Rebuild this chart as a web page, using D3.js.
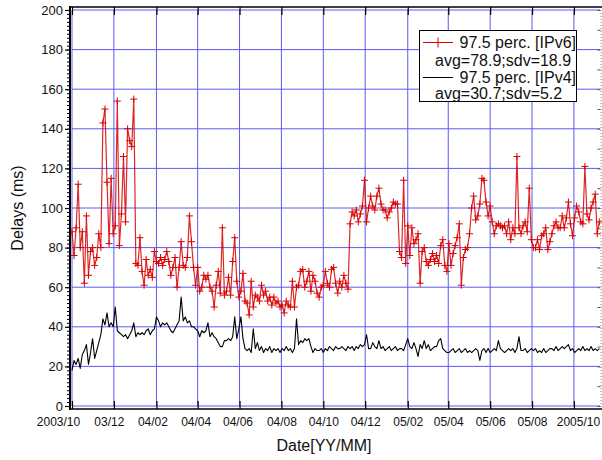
<!DOCTYPE html>
<html><head><meta charset="utf-8">
<script src="https://cdn.jsdelivr.net/npm/d3@7"></script>
<style>
body{margin:0;background:#fff}
svg{display:block;font-family:"Liberation Sans",Arial,Helvetica,sans-serif}
</style>
</head><body>
<svg id="chart" width="602" height="460"></svg>
<script>
// ---------------- data ----------------
const startDate = "2003-10-01";
const endDate = "2005-11-08";
const stepDays = 3; // one sample every 3 days

const ipv6Values = [
  88,76,90,112,80,88,62,96,66,78,
  80,71,75,87,80,143,150,113,82,115,
  87,91,154,81,97,126,93,140,134,131,
  155,72,71,85,68,61,74,66,69,65,
  78,73,72,75,71,74,78,73,66,70,
  75,60,70,83,71,70,75,96,83,70,
  61,70,58,60,66,64,66,60,58,50,
  61,68,57,90,56,58,65,56,73,85,
  63,55,58,67,53,52,46,63,50,56,
  55,53,61,56,58,53,55,51,55,52,
  53,50,51,47,53,51,50,63,50,60,
  61,68,69,60,63,68,58,66,63,57,
  55,60,61,68,62,60,69,70,62,57,
  63,60,66,62,59,92,98,96,99,93,
  97,101,114,93,100,106,101,99,106,110,
  102,99,99,95,98,100,103,102,102,78,
  75,114,72,91,76,90,82,84,87,62,
  78,80,73,71,74,77,73,76,72,81,
  84,71,68,82,71,77,81,85,92,61,
  75,79,80,87,100,106,94,96,102,115,
  114,103,96,101,93,87,91,92,91,90,
  91,87,93,84,90,87,126,90,87,91,
  93,88,110,84,80,80,84,79,86,87,
  90,79,83,87,91,93,90,90,96,90,
  95,103,92,86,95,101,98,93,92,121,
  97,94,100,103,107,87,93
];

const ipv4Values = [
  18,23,21,24,19,26,28,31,21,27,
  34,24,28,32,36,44,41,47,40,42,
  40,50,38,37,36,35,36,34,36,38,
  42,35,37,36,37,36,38,39,36,38,
  39,45,43,40,42,41,42,40,38,37,
  39,41,43,55,43,45,42,43,40,40,
  39,38,35,38,37,38,42,35,37,35,
  34,32,30,30,33,33,34,33,35,45,
  34,39,45,34,29,28,29,27,39,29,
  32,28,30,27,29,28,30,27,29,28,
  29,27,29,28,30,28,29,27,29,44,
  31,33,32,34,33,34,30,27,29,28,
  28,29,27,29,28,30,29,28,30,29,
  29,30,29,28,30,29,30,28,30,29,
  31,30,31,36,29,29,32,30,29,33,
  29,30,28,29,30,28,29,30,28,29,
  29,28,31,34,30,29,32,29,25,31,
  29,33,29,31,28,29,30,30,33,34,
  29,28,27,27,28,29,27,28,29,27,
  28,29,27,28,27,28,29,28,23,28,
  29,27,29,27,28,29,28,33,29,28,
  27,28,29,28,29,27,29,35,28,28,
  29,27,28,29,28,29,27,28,27,29,
  27,28,29,29,28,30,28,29,30,29,
  30,31,28,29,27,28,29,28,30,28,
  29,28,30,28,29,28,29
];

const xTickDates = ["2003-10-01","2003-12-01","2004-02-01","2004-04-01","2004-06-01","2004-08-01",
  "2004-10-01","2004-12-01","2005-02-01","2005-04-01","2005-06-01","2005-08-01","2005-10-01"];
const xTickLabels = ["2003/10","03/12","04/02","04/04","04/06","04/08","04/10","04/12",
  "05/02","05/04","05/06","05/08","2005/10"];
const yTickValues = [0,20,40,60,80,100,120,140,160,180,200];
const yTickLabels = ["0","20","40","60","80","100","120","140","160","180","200"];
const seriesNames = ["97.5 perc. [IPv6]","97.5 perc. [IPv4]"];
const seriesStats = ["avg=78.9;sdv=18.9","avg=30.7;sdv=5.2"];
const xTitle = "Date[YY/MM]";
const yTitle = "Delays (ms)";

// ---------------- chart ----------------
const svg = d3.select("#chart");
const parse = d3.utcParse("%Y-%m-%d");
const t0 = parse(startDate);
const x = d3.scaleUtc().domain([t0, parse(endDate)]).range([72, 600]);
const y = d3.scaleLinear().domain([0, 200]).range([406, 10]);

const ipv6 = ipv6Values.map((v, i) => ({date: d3.utcDay.offset(t0, i * stepDays), v}));
const ipv4 = ipv4Values.map((v, i) => ({date: d3.utcDay.offset(t0, i * stepDays), v}));
const tickDates = xTickDates.map(parse);

const gridColor = "#5a5af5";
const red = "#d90000";

// grid
const grid = svg.append("g");
grid.selectAll("line.v").data(tickDates).join("line")
  .attr("x1", d => x(d)).attr("x2", d => x(d))
  .attr("y1", y(0)).attr("y2", y(200))
  .attr("stroke", gridColor).attr("stroke-width", 1);
grid.selectAll("line.h").data(yTickValues).join("line")
  .attr("x1", 72).attr("x2", 600)
  .attr("y1", d => y(d)).attr("y2", d => y(d))
  .attr("stroke", gridColor).attr("stroke-width", 1);

// clip
svg.append("defs").append("clipPath").attr("id", "clip")
  .append("rect").attr("x", 71).attr("y", 7).attr("width", 531).attr("height", 402);
const plot = svg.append("g").attr("clip-path", "url(#clip)");

const line = d3.line().x(d => x(d.date)).y(d => y(d.v));

plot.append("path").datum(ipv4).attr("d", line)
  .attr("fill", "none").attr("stroke", "#000").attr("stroke-width", 1.1)
  .attr("stroke-linejoin", "round");

plot.append("path").datum(ipv6).attr("d", line)
  .attr("fill", "none").attr("stroke", red).attr("stroke-width", 1.2)
  .attr("stroke-opacity", 0.85).attr("stroke-linejoin", "round");

plot.append("g").selectAll("path").data(ipv6).join("path")
  .attr("d", d => {
    const px = x(d.date), py = y(d.v);
    return `M${px - 3.5},${py}h7M${px},${py - 3.5}v7`;
  })
  .attr("stroke", red).attr("stroke-width", 1).attr("fill", "none");

// right axis (dotted) with small ticks
const rightAx = svg.append("g").attr("transform", "translate(600.5,0)")
  .call(d3.axisLeft(y).tickValues(d3.range(0, 201, 10)).tickSize(3).tickFormat(""));
rightAx.select(".domain").attr("stroke", "#888").attr("stroke-dasharray", "1,2");
rightAx.selectAll(".tick line").attr("stroke", "#555");

// left axis: minor ticks
const minorAx = svg.append("g").attr("transform", "translate(70,0)")
  .call(d3.axisLeft(y).tickValues(d3.range(0, 201, 2)).tickSize(3).tickFormat(""));
minorAx.select(".domain").remove();
minorAx.selectAll(".tick line").attr("stroke", "#000").attr("stroke-width", 1);

// left axis: major ticks + labels
const leftAx = svg.append("g").attr("transform", "translate(70,0)")
  .call(d3.axisLeft(y).tickValues(yTickValues).tickSize(5).tickPadding(2)
    .tickFormat((d, i) => yTickLabels[i]));
leftAx.select(".domain").remove();
leftAx.selectAll(".tick line").attr("stroke", "#000").attr("stroke-width", 1.2);
leftAx.selectAll(".tick text").attr("font-size", 13).attr("fill", "#111")
  .attr("font-family", "'Liberation Sans',Arial,sans-serif");

// bottom axis
const labelShift = [-14, -5, -4, -2, -2, 0, 0, 0, 0, 0, 0, 0, 4];
const bottomAx = svg.append("g").attr("transform", "translate(0,409)")
  .call(d3.axisBottom(x).tickValues(tickDates).tickSizeInner(-8).tickSizeOuter(0).tickPadding(8)
    .tickFormat((d, i) => xTickLabels[i]));
bottomAx.select(".domain").remove();
bottomAx.selectAll(".tick line").attr("stroke", "#000").attr("stroke-width", 1.2);
bottomAx.selectAll(".tick text").attr("font-size", 12).attr("fill", "#111")
  .attr("font-family", "'Liberation Sans',Arial,sans-serif")
  .attr("dx", (d, i) => labelShift[i]);

// top axis ticks
const topAx = svg.append("g").attr("transform", "translate(0,7)")
  .call(d3.axisTop(x).tickValues(tickDates).tickSizeInner(-8).tickSizeOuter(0).tickFormat(""));
topAx.select(".domain").remove();
topAx.selectAll(".tick line").attr("stroke", "#000").attr("stroke-width", 1.2);

// frame lines
svg.append("line").attr("x1", 70).attr("x2", 70).attr("y1", 6).attr("y2", 410)
  .attr("stroke", "#000").attr("stroke-width", 2);
svg.append("line").attr("x1", 69).attr("x2", 602).attr("y1", 7).attr("y2", 7)
  .attr("stroke", "#000").attr("stroke-width", 1.5);
svg.append("line").attr("x1", 69).attr("x2", 602).attr("y1", 409).attr("y2", 409)
  .attr("stroke", "#000").attr("stroke-width", 1.5);

// titles
svg.append("text").attr("x", 324).attr("y", 451).attr("text-anchor", "middle")
  .attr("font-size", 16).attr("fill", "#111").text(xTitle);
svg.append("text").attr("transform", "translate(23,208) rotate(-90)")
  .attr("text-anchor", "middle").attr("font-size", 16).attr("fill", "#111").text(yTitle);

// legend
const lg = svg.append("g");
lg.append("rect").attr("x", 419.5).attr("y", 30.5).attr("width", 157).attr("height", 71)
  .attr("fill", "#fff").attr("stroke", "#000").attr("stroke-width", 1);
lg.append("line").attr("x1", 423).attr("x2", 453).attr("y1", 42.5).attr("y2", 42.5)
  .attr("stroke", red).attr("stroke-width", 1);
lg.append("path").attr("d", "M433,42.5h10M438,37.5v10").attr("stroke", red).attr("stroke-width", 1);
lg.append("line").attr("x1", 423).attr("x2", 453).attr("y1", 77.5).attr("y2", 77.5)
  .attr("stroke", "#000").attr("stroke-width", 1);
const lgText = [
  {t: seriesNames[0], x: 459.5, y: 47.5},
  {t: seriesStats[0], x: 435, y: 65.5},
  {t: seriesNames[1], x: 459.5, y: 83},
  {t: seriesStats[1], x: 435, y: 98.5}
];
lg.selectAll("text").data(lgText).join("text")
  .attr("x", d => d.x).attr("y", d => d.y).attr("font-size", 16).attr("fill", "#111")
  .text(d => d.t);
</script>
</body></html>
